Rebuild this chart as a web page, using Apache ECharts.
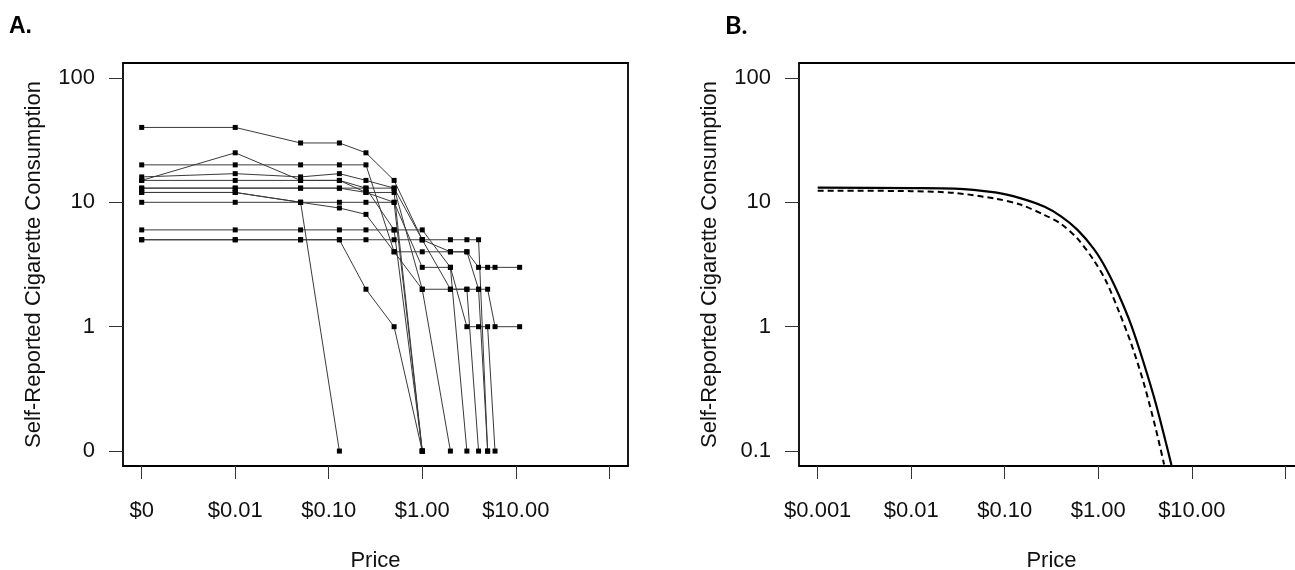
<!DOCTYPE html>
<html>
<head>
<meta charset="utf-8">
<script src="https://cdn.jsdelivr.net/npm/echarts@6/dist/echarts.min.js"></script>
<style>
  html, body { margin: 0; padding: 0; background: #fff; }
  #main { width: 1295px; height: 570px; }
</style>
</head>
<body>
<div id="main"></div>
<script>
// panel A: prices offered in the purchase task ($0 is drawn at $0.001)
var pricesA = [0, 0.01, 0.05, 0.13, 0.25, 0.5, 1, 2, 3, 4, 5, 6, 11];
// one row per participant, stops at the first zero
var subjects = [
  [40, 40, 30, 30, 25, 15, 5, 2, 2, 2, 2, 1, 1],
  [15, 25, 15, 15, 12, 10, 3, 3, 1, 1, 1, 0],
  [20, 20, 20, 20, 20, 4, 4, 4, 4, 3, 3, 3, 3],
  [16, 17, 16, 17, 15, 13, 5, 4, 4, 2, 0],
  [15, 15, 15, 15, 13, 6, 0],
  [13, 13, 13, 13, 13, 13, 2, 0],
  [12, 12, 10, 0],
  [12, 12, 10, 9, 8, 4, 2, 2, 2, 0],
  [10, 10, 10, 10, 10, 10, 0],
  [6, 6, 6, 6, 6, 6, 6, 3, 0],
  [5, 5, 5, 5, 2, 1, 0],
  [5, 5, 5, 5, 5, 5, 5, 5, 5, 5, 0],
  [13, 13, 13, 13, 12, 12, 0]
];

// panel B: fitted demand curves
var pricesSolid  = [0.001, 0.01, 0.029, 0.079, 0.146, 0.267, 0.40, 0.60, 0.90, 1.22, 1.66, 2.25, 3.04, 4.13, 6.07];
var solidVals    = [13.1, 13.0, 12.9, 12.0, 10.8, 9.2, 7.7, 6.0, 4.2, 2.9, 1.8, 1.03, 0.52, 0.24, 0.077];
var pricesDashed = [0.001, 0.01, 0.029, 0.079, 0.146, 0.267, 0.40, 0.60, 0.90, 1.22, 1.66, 2.25, 3.04, 4.13, 5.06];
var dashedVals   = [12.4, 12.3, 11.9, 10.7, 9.6, 7.9, 6.7, 5.1, 3.4, 2.3, 1.33, 0.73, 0.36, 0.15, 0.078];

// tick labels
var xLabelsA = ['$0', '$0.01', '$0.10', '$1.00', '$10.00', ''];
var xLabelsB = ['$0.001', '$0.01', '$0.10', '$1.00', '$10.00', ''];
var yLabelsA = ['0', '1', '10', '100'];
var yLabelsB = ['0.1', '1', '10', '100'];

var FONT = '"Liberation Sans", Arial, sans-serif';
var TXT = '#111';
var BOX_W = 505, BOX_H = 403, TOP = 63;
var PADX = BOX_W * 0.2 / 5.4, PADY = BOX_H * 0.12 / 3.24;

function boxGrid(left) {
  return { left: left, top: TOP, width: BOX_W, height: BOX_H, show: true, outerBoundsMode: 'none',
           borderColor: '#000', borderWidth: 1.8, backgroundColor: 'transparent' };
}
function tickGrid(left) {
  return { left: left + PADX, top: TOP + PADY, width: BOX_W - 2 * PADX, height: BOX_H - 2 * PADY,
           outerBoundsMode: 'none' };
}
function hiddenX(i) {
  return { gridIndex: i, type: 'log', min: Math.pow(10, -3.2), max: Math.pow(10, 2.2), show: false };
}
function hiddenY(i) {
  return { gridIndex: i, type: 'log', min: Math.pow(10, -1.12), max: Math.pow(10, 2.12), show: false };
}
function tickX(i, labels) {
  return {
    gridIndex: i, type: 'log', min: 0.001, max: 100, offset: PADY,
    axisLine: { show: false, onZero: false },
    axisTick: { length: 13, lineStyle: { color: '#333', width: 1 } },
    splitLine: { show: false },
    axisLabel: { margin: 34, fontSize: 22, color: TXT, fontFamily: FONT,
      formatter: function (v) { return labels[Math.round(Math.log10(v)) + 3]; } },
    name: 'Price', nameLocation: 'middle', nameGap: 84,
    nameTextStyle: { fontSize: 22, color: TXT, fontFamily: FONT }
  };
}
function tickY(i, labels) {
  return {
    gridIndex: i, type: 'log', min: 0.1, max: 100, offset: PADX,
    axisLine: { show: false, onZero: false },
    axisTick: { length: 14, lineStyle: { color: '#333', width: 1 } },
    splitLine: { show: false },
    axisLabel: { margin: 28, fontSize: 22, color: TXT, fontFamily: FONT,
      formatter: function (v) { return labels[Math.round(Math.log10(v)) + 1]; } },
    name: 'Self-Reported Cigarette Consumption', nameLocation: 'middle', nameGap: 78,
    nameTextStyle: { fontSize: 22, color: TXT, fontFamily: FONT }
  };
}

var series = [];
subjects.forEach(function (row, k) {
  var data = row.map(function (q, j) {
    return [pricesA[j] === 0 ? 0.001 : pricesA[j], q === 0 ? 0.1 : q];
  });
  series.push({
    name: 'P' + (k + 1), type: 'line', xAxisIndex: 0, yAxisIndex: 0, data: data,
    symbol: 'rect', symbolSize: 5, showSymbol: true,
    lineStyle: { color: '#3a3a3a', width: 1 }, itemStyle: { color: '#000' }
  });
});
series.push({
  name: 'solid', type: 'line', xAxisIndex: 2, yAxisIndex: 2, showSymbol: false,
  smooth: 0.3,
  data: pricesSolid.map(function (p, j) { return [p, solidVals[j]]; }),
  lineStyle: { color: '#000', width: 2.2 }
});
series.push({
  name: 'dashed', type: 'line', xAxisIndex: 2, yAxisIndex: 2, showSymbol: false,
  smooth: 0.3,
  data: pricesDashed.map(function (p, j) { return [p, dashedVals[j]]; }),
  lineStyle: { color: '#000', width: 2, type: [6, 4] }
});

var chart = echarts.init(document.getElementById('main'), null, { renderer: 'canvas' });
chart.setOption({
  animation: false,
  backgroundColor: '#fff',
  grid: [boxGrid(123), tickGrid(123), boxGrid(799), tickGrid(799)],
  xAxis: [hiddenX(0), tickX(1, xLabelsA), hiddenX(2), tickX(3, xLabelsB)],
  yAxis: [hiddenY(0), tickY(1, yLabelsA), hiddenY(2), tickY(3, yLabelsB)],
  graphic: [
    { type: 'text', left: 9, top: 15, style: { text: 'A.', font: 'bold 23px "Liberation Sans", Arial', fill: '#000' } },
    { type: 'text', left: 725, top: 13, style: { text: 'B.', font: 'bold 25px Lato, "Open Sans", sans-serif', fill: '#000' } }
  ],
  series: series
});
</script>
</body>
</html>
